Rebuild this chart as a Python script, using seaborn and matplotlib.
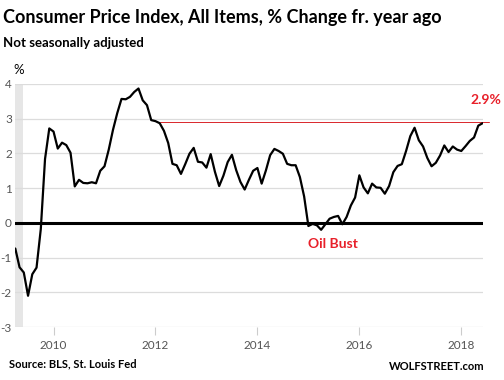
import numpy as np
import pandas as pd
import matplotlib
matplotlib.use("Agg")
import matplotlib.pyplot as plt
import seaborn as sns

# CPI-U, all items, % change from year ago (NSA), Apr 2009 - Jun 2018
start_year = 2009
start_month = 4
cpi_yoy = [
    -0.74, -1.28, -1.43, -2.10, -1.48, -1.29, -0.18, 1.84, 2.72,          # 2009 Apr-Dec
    2.63, 2.14, 2.31, 2.24, 2.02, 1.05, 1.24, 1.15, 1.14, 1.17, 1.14, 1.50,  # 2010
    1.63, 2.11, 2.68, 3.16, 3.57, 3.56, 3.63, 3.77, 3.87, 3.53, 3.39, 2.96,  # 2011
    2.93, 2.87, 2.65, 2.30, 1.70, 1.66, 1.41, 1.69, 1.99, 2.16, 1.76, 1.74,  # 2012
    1.59, 1.98, 1.47, 1.06, 1.36, 1.75, 1.96, 1.52, 1.18, 0.96, 1.24, 1.50,  # 2013
    1.58, 1.13, 1.51, 1.95, 2.13, 2.07, 1.99, 1.70, 1.66, 1.66, 1.32, 0.76,  # 2014
    -0.09, -0.03, -0.07, -0.20, -0.04, 0.12, 0.17, 0.20, -0.04, 0.17, 0.50, 0.73,  # 2015
    1.37, 1.02, 0.85, 1.13, 1.02, 1.01, 0.84, 1.06, 1.46, 1.64, 1.69, 2.07,  # 2016
    2.50, 2.74, 2.38, 2.20, 1.87, 1.63, 1.73, 1.94, 2.23, 2.04, 2.20, 2.11,  # 2017
    2.07, 2.21, 2.36, 2.46, 2.80, 2.87,                                      # 2018 Jan-Jun
]
year_ticks = [2010, 2012, 2014, 2016, 2018]
y_ticks = [-3, -2, -1, 0, 1, 2, 3, 4]
ref_level = 2.9
ref_start = 2012.08
recession = (2009.25, 2009.41)
last_label = "2.9%"
event_label = "Oil Bust"

months = np.arange(len(cpi_yoy))
t = start_year + (start_month - 1) / 12 + months / 12
df = pd.DataFrame({"t": t, "cpi": cpi_yoy})

sns.set_theme(style="white")
plt.rcParams["font.family"] = ["Lato", "DejaVu Sans"]

fig = plt.figure(figsize=(5.04, 3.80), dpi=100)
ax = fig.add_axes([15.3 / 504, 1 - 327 / 380, (482.7 - 15.3) / 504, (327 - 84) / 380])

ax.set_xlim(2009.25, 2018.42)
ax.set_ylim(-3, 4)

ax.axvspan(*recession, color="#e6e6e6", lw=0, zorder=0)
for yv in y_ticks:
    ax.axhline(yv, color="#dcdcdc", lw=0.9, zorder=1)
ax.axhline(0, color="black", lw=2.2, zorder=2)
ax.plot([ref_start, 2018.54], [ref_level, ref_level], color="#d9262b", lw=0.7,
        zorder=2, clip_on=False)

sns.lineplot(data=df, x="t", y="cpi", color="black", lw=1.6, ax=ax, zorder=3)

for s in ax.spines.values():
    s.set_visible(False)
ax.set_xticks(year_ticks)
ax.set_xticklabels([str(y) for y in year_ticks], color="#555555", fontsize=8.5)
ax.set_yticks(y_ticks)
ax.set_yticklabels([str(y) for y in y_ticks], color="#555555", fontsize=8.5)
ax.tick_params(axis="x", bottom=True, length=6, width=0.8, color="#cccccc", pad=3.5)
ax.tick_params(axis="y", left=False, length=0, pad=2.5)
ax.set_xlabel("")
ax.set_ylabel("")

red = "#e8202a"
ax.text(2018.48, 3.55, last_label, color=red, fontsize=10, fontweight="bold",
        ha="center", va="center", clip_on=False)
ax.text(2015.0, -0.62, event_label, color=red, fontsize=10, fontweight="bold",
        ha="left", va="center")

fig.text(3 / 504, 1 - 17 / 380, "Consumer Price Index, All Items, % Change fr. year ago",
         fontsize=13, fontweight="bold", color="black", ha="left", va="center")
fig.text(3 / 504, 1 - 43 / 380, "Not seasonally adjusted",
         fontsize=9.5, fontweight="bold", color="black", ha="left", va="center")
fig.text(13 / 504, 1 - 70 / 380, "%", fontsize=9.5, color="black", ha="left", va="center")
fig.text(9 / 504, 1 - 364 / 380, "Source: BLS, St. Louis Fed",
         fontsize=8, fontweight="bold", color="black", ha="left", va="center")
fig.text(485 / 504, 1 - 366 / 380, "WOLFSTREET.com",
         fontsize=8, fontweight="bold", color="black", ha="right", va="center")

fig.savefig("out.png", dpi=100)
